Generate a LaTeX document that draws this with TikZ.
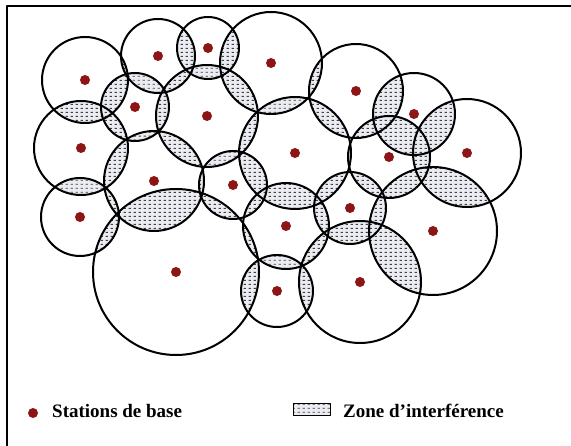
\documentclass[tikz,border=0pt]{standalone}
\usepackage{fontspec}
\setmainfont{Liberation Serif}
\usetikzlibrary{patterns}
\pgfdeclarepatternformonly{interf}{\pgfpointorigin}{\pgfpoint{4.5pt}{4pt}}{\pgfpoint{4.5pt}{4pt}}{%
  \pgfpathrectangle{\pgfpoint{0.6pt}{1.5pt}}{\pgfpoint{2.6pt}{1.1pt}}\pgfusepath{fill}}
\definecolor{station}{HTML}{8E1515}
\definecolor{zonebg}{HTML}{EAECF2}
% x/y/rayon de chaque cellule
\def\cellules{85/80/43, 158/56/37, 208/48/31, 271/63/51, 135/107/34,
  207/116/51, 81/148/47, 154/181/50, 233/185/34, 80/217/39, 176/272/83,
  356/91/47, 414/114/41, 467/153/54, 295/153/56, 389/157/41, 350/208/36,
  286/226/43, 433/231/64, 277/291/36, 360/282/61}
\begin{document}
\begin{tikzpicture}[x=1pt,y=-1pt,line join=round,line cap=round,
    cell/.style={line width=2pt},
    zone/.style={preaction={fill=zonebg},pattern=interf,pattern color=black!75},
    legende/.style={anchor=base west,inner sep=0pt,font=\bfseries\fontsize{19}{21}\selectfont}]
  \useasboundingbox (0,0) rectangle (571,446);
  \draw[line width=2.2pt] (7,446) -- (7,6) -- (571,6);
  % zones d'interference
  \foreach \xa/\ya/\ra [count=\i] in \cellules {
    \foreach \xb/\yb/\rb [count=\j] in \cellules {
      \ifnum\j>\i
        \begin{scope}
          \clip (\xa,\ya) circle (\ra);
          \fill[zone] (\xb,\yb) circle (\rb);
        \end{scope}
      \fi
    }
  }
  \foreach \x/\y/\r in \cellules {
    \draw[cell] (\x,\y) circle (\r);
    \fill[station] (\x,\y) circle (5);
  }
  % legende
  \fill[station] (33,413) circle (5);
  \node[legende] (stations) at (52,418) {Stations de base};
  \draw[zone,draw=black,line width=0.8pt] (293,403) rectangle (330,415);
  \node[legende] (zone) at (343,418) {Zone d'interférence};
\end{tikzpicture}
\end{document}
